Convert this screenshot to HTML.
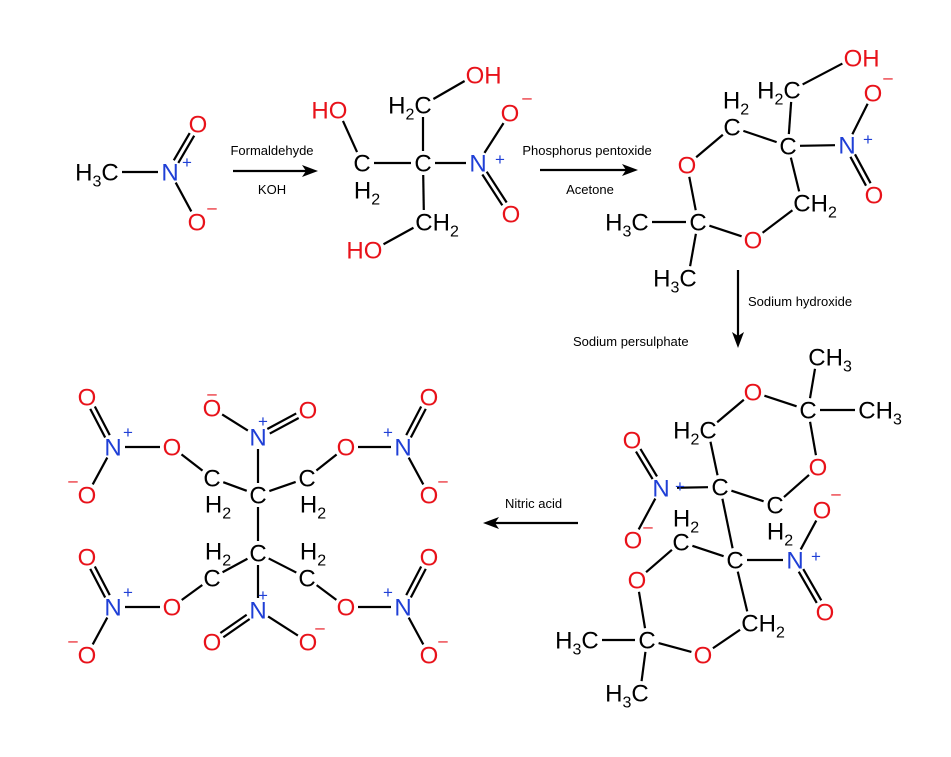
<!DOCTYPE html>
<html><head><meta charset="utf-8"><style>
html,body{margin:0;padding:0;background:#fff;}
svg{display:block;font-family:"Liberation Sans",Arial,sans-serif;}
.cap{font-size:13px;fill:#000;}
</style></head><body>
<svg id="s" width="951" height="757" viewBox="0 0 951 757" xmlns="http://www.w3.org/2000/svg">
<rect width="951" height="757" fill="#fff"/>
<g id="bonds" stroke="#000" stroke-width="2.2" stroke-linecap="butt"></g>
<g id="arrows"></g>
<g id="labels"></g>
<text class="cap" x="272" y="155" text-anchor="middle">Formaldehyde</text>
<text class="cap" x="272" y="194" text-anchor="middle">KOH</text>
<text class="cap" x="587" y="155" text-anchor="middle">Phosphorus pentoxide</text>
<text class="cap" x="590" y="194" text-anchor="middle">Acetone</text>
<text class="cap" x="748" y="306">Sodium hydroxide</text>
<text class="cap" x="573" y="346">Sodium persulphate</text>
<text class="cap" x="505" y="508">Nitric acid</text>
</svg>
<script>
const NS="http://www.w3.org/2000/svg";
const R="#e8121a",B="#1f3fd6",K="#000";
const bonds=document.getElementById('bonds'),labels=document.getElementById('labels'),arrows=document.getElementById('arrows');
let lh='';
function mk(s){let o='';let sub=false;for(const ch of s){if(/\d/.test(ch)){o+='<tspan font-size="16" dy="6">'+ch+'</tspan>';sub=true;}else{o+=sub?'<tspan dy="-6">'+ch+'</tspan>':ch;sub=false;}}return o;}
// place label: cx,cy is center of bonding atom letter
function L(cx,cy,s,col,mode){
  col=col||K;let x=cx,anc='middle';
  if(mode==='end'){x=cx+8.7;anc='end';}
  else if(mode==='start'){x=cx-8.7;anc='start';}
  else if(mode==='Oend'){x=cx+9.4;anc='end';}
  else if(mode==='Ostart'){x=cx-9.4;anc='start';}
  lh+='<text x="'+x+'" y="'+(cy+8.6)+'" font-size="24" fill="'+col+'" text-anchor="'+anc+'">'+mk(s)+'</text>';
}
function ch(x,y,s){lh+='<text x="'+x+'" y="'+(y+5)+'" font-size="17" fill="'+(s==='+'?B:R)+'" text-anchor="middle">'+(s==='+'?'+':'\u2013')+'</text>';}
let bh='';
function Bd(x1,y1,x2,y2,d,r1,r2){
  r1=(r1===undefined)?12:r1;r2=(r2===undefined)?12:r2;
  const dx=x2-x1,dy=y2-y1,l=Math.hypot(dx,dy),ux=dx/l,uy=dy/l;
  const ax=x1+ux*r1,ay=y1+uy*r1,bx=x2-ux*r2,by=y2-uy*r2;
  if(d){const px=-uy*2.6,py=ux*2.6;
    bh+=`<line x1="${ax+px}" y1="${ay+py}" x2="${bx+px}" y2="${by+py}"/><line x1="${ax-px}" y1="${ay-py}" x2="${bx-px}" y2="${by-py}"/>`;}
  else bh+=`<line x1="${ax}" y1="${ay}" x2="${bx}" y2="${by}"/>`;
}
// ---- Mol 1
L(110,172,'H3C',K,'end');L(170,172,'N',B);ch(187,163,'+');L(198,124,'O',R);L(197,222,'O',R);ch(212,208,'-');
Bd(110,172,170,172);Bd(170,172,198,124,1);Bd(170,172,197,222);
// ---- Mol 2
L(423,163,'C');L(362,163,'C');L(367,190,'H2');L(338,110,'HO',R,'Oend');L(423,105,'H2C',K,'end');
L(475,75,'OH',R,'Ostart');L(424,222,'CH2',K,'start');L(373,250,'HO',R,'Oend');
L(478,163,'N',B);ch(500,160,'+');L(510,113,'O',R);ch(527,98,'-');L(511,214,'O',R);
Bd(423,163,362,163);Bd(423,163,423,105);Bd(423,163,424,222);Bd(338,110,362,163);Bd(423,105,475,75);
Bd(424,222,373,250);Bd(423,163,478,163);Bd(478,163,510,113);Bd(478,163,511,214,1);
// ---- Mol 3
L(687,165,'O',R);L(732,127,'C');L(736,100,'H2');L(788,146,'C');L(792,90,'H2C',K,'end');L(853,58,'OH',R,'Ostart');
L(847,145,'N',B);ch(868,140,'+');L(873,93,'O',R);ch(888,78,'-');L(874,195,'O',R);
L(802,203,'CH2',K,'start');L(753,240,'O',R);L(698,222,'C');L(640,222,'H3C',K,'end');L(688,278,'H3C',K,'end');
Bd(687,165,732,127);Bd(732,127,788,146);Bd(788,146,792,90);Bd(792,90,853,58);Bd(788,146,847,145);
Bd(847,145,873,93);Bd(847,145,874,195,1);Bd(788,146,802,203);Bd(802,203,753,240);Bd(753,240,698,222);
Bd(698,222,687,165);Bd(698,222,640,222);Bd(698,222,688,278);
// ---- Mol 4
L(817,357,'CH3',K,'start');L(808,410,'C');L(867,410,'CH3',K,'start');L(753,392,'O',R);L(708,430,'H2C',K,'end');
L(818,467,'O',R);L(720,487,'C');L(775,505,'C');L(780,531,'H2');L(661,488,'N',B);ch(680,487,'+');
L(632,440,'O',R);L(633,540,'O',R);ch(648,527,'-');L(686,518,'H2');L(681,542,'C');L(735,560,'C');
L(795,560,'N',B);ch(816,557,'+');L(822,510,'O',R);ch(836,494,'-');L(825,612,'O',R);
L(637,580,'O',R);L(750,623,'CH2',K,'start');L(647,640,'C');L(590,640,'H3C',K,'end');L(703,655,'O',R);L(640,693,'H3C',K,'end');
Bd(753,392,808,410);Bd(808,410,817,357);Bd(808,410,867,410);Bd(808,410,818,467);Bd(818,467,775,505);
Bd(775,505,720,487);Bd(720,487,708,430);Bd(708,430,753,392);Bd(720,487,661,488,0,12,16);Bd(661,488,632,440,1);
Bd(661,488,633,540);Bd(720,487,735,560);Bd(735,560,681,542);Bd(681,542,637,580);Bd(637,580,647,640);
Bd(647,640,590,640);Bd(647,640,640,693);Bd(647,640,703,655);Bd(703,655,750,623);Bd(750,623,735,560);
Bd(735,560,795,560);Bd(795,560,822,510);Bd(795,560,825,612,1);
// ---- Mol 5
const cu=[258,495],cd=[258,553];
L(258,495,'C');L(258,553,'C');
L(212,478,'C');L(218,504,'H2');L(307,478,'C');L(313,504,'H2');
L(212,578,'C');L(218,551,'H2');L(307,578,'C');L(313,551,'H2');
L(258,437,'N',B);ch(263,422,'+');L(212,408,'O',R);ch(212,394,'-');L(308,410,'O',R);
L(258,610,'N',B);ch(263,596,'+');L(212,642,'O',R);L(308,642,'O',R);ch(320,628,'-');
Bd(258,495,258,553);Bd(258,495,212,478);Bd(258,495,307,478);Bd(258,553,212,578);Bd(258,553,307,578);
Bd(258,495,258,437);Bd(258,437,212,408);Bd(258,437,308,410,1);Bd(258,553,258,610);Bd(258,610,212,642,1);Bd(258,610,308,642);
function nitrate(cx,cy,ox,oy,nx,ny,left,up){
  L(ox,oy,'O',R);L(nx,ny,'N',B);
  const s=left?1:-1;
  ch(nx+15*s,ny-14,'+');
  const ot=[nx-26*s,ny-50],ob=[nx-26*s,ny+48];
  L(ot[0],ot[1],'O',R);L(ob[0],ob[1],'O',R);ch(ob[0]-14*s,ob[1]-14,'-');
  Bd(cx,cy,ox,oy);Bd(ox,oy,nx,ny);Bd(nx,ny,ot[0],ot[1],1);Bd(nx,ny,ob[0],ob[1]);
}
nitrate(212,478,172,447,113,447,true);
nitrate(307,478,346,447,403,447,false);
nitrate(212,578,172,607,113,607,true);
nitrate(307,578,346,607,403,607,false);
bonds.innerHTML=bh;labels.innerHTML=lh;
// arrows
function arr(x1,y1,x2,y2){const dx=x2-x1,dy=y2-y1,l=Math.hypot(dx,dy),ux=dx/l,uy=dy/l;
  const bx=x2-ux*16,by=y2-uy*16,px=-uy*6,py=ux*6;
  return `<line x1="${x1}" y1="${y1}" x2="${bx+ux*4}" y2="${by+uy*4}" stroke="#000" stroke-width="2.2"/><polygon points="${x2},${y2} ${bx+px},${by+py} ${bx+ux*4},${by+uy*4} ${bx-px},${by-py}" fill="#000"/>`;}
arrows.innerHTML=arr(233,171,318,171)+arr(540,170,638,170)+arr(738,270,738,348)+arr(578,523,483,523);
</script>
</body></html>
